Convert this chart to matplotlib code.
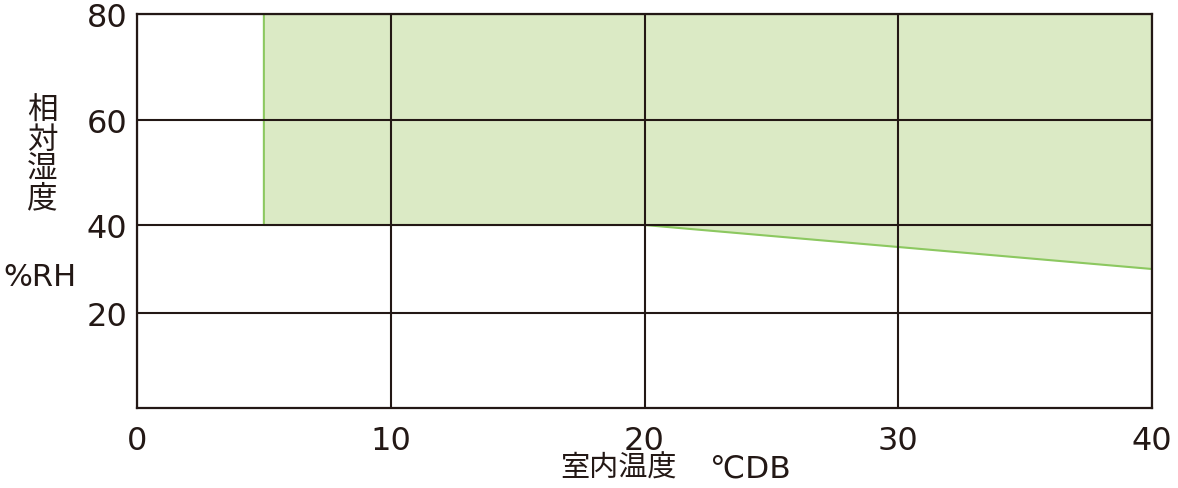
import numpy as np
import matplotlib
matplotlib.use("Agg")
import matplotlib.pyplot as plt

plt.rcParams['font.family'] = ['Noto Sans CJK JP', 'DejaVu Sans']

# operating range: indoor temperature vs relative humidity
temp = [5, 20, 40]
rh_low = [40, 40, 30]
rh_high = [80, 80, 80]

x_ticks = [0, 10, 20, 30, 40]
y_ticks = [20, 40, 60, 80]

# the printed y axis is not evenly spaced: piecewise mapping value -> position
y_vals = [0, 20, 40, 60, 80]
y_pos = [0, 95, 183, 288, 394]
fwd = lambda v: np.interp(v, y_vals, y_pos, left=-1e3, right=1e3)
inv = lambda p: np.interp(p, y_pos, y_vals)

ink = "#231815"
fig = plt.figure(figsize=(11.78, 4.89), dpi=100)
ax = fig.add_axes([137/1178, 80/489, (1152-137)/1178, (409-15)/489])
ax.set_yscale("function", functions=(fwd, inv))

ax.fill_between(temp, rh_low, rh_high, color="#dbeac5", lw=0, zorder=1)
ax.plot([temp[0]] + temp, [rh_high[0]] + rh_low, color="#8cc860", lw=1.5, zorder=2)

ax.set_xlim(0, 40)
ax.set_ylim(0, 80)
ax.set_xticks(x_ticks)
ax.set_yticks(y_ticks)
ax.set_axisbelow(False)
ax.grid(True, color=ink, lw=1.5)
for s in ax.spines.values():
    s.set_color(ink)
    s.set_linewidth(1.6)
ax.tick_params(length=0, labelcolor=ink)
ax.tick_params(axis="x", pad=12)
ax.tick_params(axis="y", pad=7)
for lab in ax.get_xticklabels() + ax.get_yticklabels():
    lab.set_family("DejaVu Sans")
    lab.set_fontsize(23)

fig.text(42/1178, 1 - 155/489, "相\n対\n湿\n度", fontsize=22, color=ink,
         ha="center", va="center", linespacing=0.92)
fig.text(40/1178, 1 - 277/489, "%RH", fontsize=22, color=ink, ha="center", va="center",
         family="DejaVu Sans")
fig.text(677/1178, 1 - 469/489, "室内温度", fontsize=21, color=ink,
         ha="right", va="center")
fig.text(710/1178, 1 - 469/489, "℃DB", fontsize=22.5, color=ink,
         ha="left", va="center", family=["DejaVu Sans", "Noto Sans CJK JP"])

fig.savefig("out.png", dpi=100)
